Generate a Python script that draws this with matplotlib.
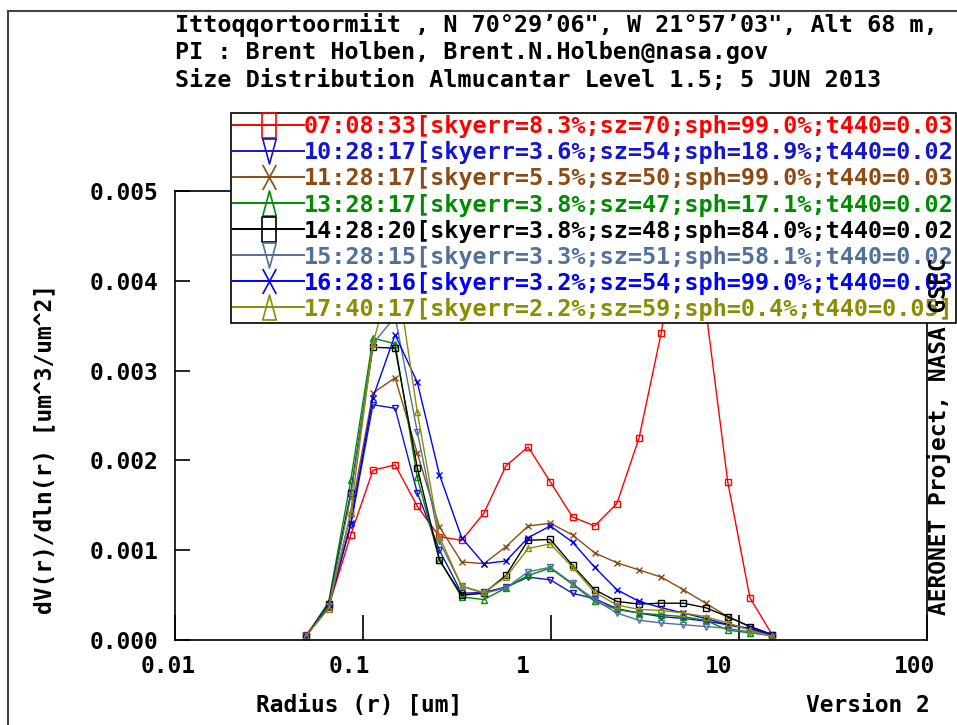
import matplotlib
matplotlib.use('Agg')
import matplotlib.pyplot as plt
from matplotlib.path import Path
from matplotlib.lines import Line2D
from matplotlib.patches import Rectangle
import matplotlib.transforms as mtransforms

# ---------------- data ----------------
radius = [0.05, 0.065604, 0.086077, 0.112939, 0.148184, 0.194429, 0.255105,
          0.334716, 0.439173, 0.576227, 0.756052, 0.991996, 1.301571,
          1.707757, 2.240702, 2.939966, 3.857452, 5.061260, 6.640745,
          8.713145, 11.432287, 15.0]

# legend labels as far as they are visible in the original (cut at the right edge)
labels = [
    "07:08:33[skyerr=8.3%;sz=70;sph=99.0%;t440=0.03",
    "10:28:17[skyerr=3.6%;sz=54;sph=18.9%;t440=0.02",
    "11:28:17[skyerr=5.5%;sz=50;sph=99.0%;t440=0.03",
    "13:28:17[skyerr=3.8%;sz=47;sph=17.1%;t440=0.02",
    "14:28:20[skyerr=3.8%;sz=48;sph=84.0%;t440=0.02",
    "15:28:15[skyerr=3.3%;sz=51;sph=58.1%;t440=0.02",
    "16:28:16[skyerr=3.2%;sz=54;sph=99.0%;t440=0.03",
    "17:40:17[skyerr=2.2%;sz=59;sph=0.4%;t440=0.05]",
]

v_0708 = [0.00006, 0.00037, 0.00117, 0.00189, 0.00195, 0.00149, 0.00115, 0.00111,
          0.00141, 0.00194, 0.00215, 0.00176, 0.00137, 0.00127, 0.00152, 0.00225,
          0.00342, 0.00500, 0.00370, 0.00176, 0.00047, 0.00006]
v_1028 = [0.00005, 0.00038, 0.00128, 0.00262, 0.00258, 0.00164, 0.00100, 0.00052,
          0.00053, 0.00059, 0.00070, 0.00067, 0.00052, 0.00046, 0.00035, 0.00030,
          0.00026, 0.00024, 0.00021, 0.00017, 0.00012, 0.00005]
v_1128 = [0.00005, 0.00038, 0.00140, 0.00275, 0.00292, 0.00208, 0.00126, 0.00087,
          0.00085, 0.00104, 0.00127, 0.00130, 0.00117, 0.00097, 0.00086, 0.00078,
          0.00070, 0.00056, 0.00041, 0.00026, 0.00015, 0.00006]
v_1328 = [0.00005, 0.00042, 0.00178, 0.00336, 0.00330, 0.00181, 0.00089, 0.00048,
          0.00045, 0.00058, 0.00072, 0.00080, 0.00062, 0.00043, 0.00034, 0.00030,
          0.00028, 0.00026, 0.00022, 0.00011, 0.00008, 0.00005]
v_1428 = [0.00005, 0.00040, 0.00164, 0.00326, 0.00325, 0.00192, 0.00089, 0.00050,
          0.00052, 0.00072, 0.00111, 0.00112, 0.00083, 0.00056, 0.00043, 0.00040,
          0.00041, 0.00041, 0.00036, 0.00026, 0.00015, 0.00006]
v_1528 = [0.00005, 0.00038, 0.00160, 0.00330, 0.00360, 0.00232, 0.00110, 0.00060,
          0.00052, 0.00058, 0.00076, 0.00081, 0.00063, 0.00045, 0.00030, 0.00022,
          0.00019, 0.00017, 0.00015, 0.00013, 0.00009, 0.00004]
v_1628 = [0.00005, 0.00036, 0.00130, 0.00270, 0.00340, 0.00287, 0.00184, 0.00114,
          0.00085, 0.00088, 0.00114, 0.00127, 0.00109, 0.00081, 0.00056, 0.00043,
          0.00036, 0.00030, 0.00024, 0.00017, 0.00013, 0.00006]
v_1740 = [0.00005, 0.00035, 0.00143, 0.00330, 0.00420, 0.00254, 0.00115, 0.00060,
          0.00053, 0.00070, 0.00102, 0.00107, 0.00081, 0.00053, 0.00039, 0.00034,
          0.00033, 0.00030, 0.00026, 0.00019, 0.00011, 0.00004]

series = [v_0708, v_1028, v_1128, v_1328, v_1428, v_1528, v_1628, v_1740]
colors = ['#FF0000', '#1414D2', '#8C4A14', '#008C00', '#000000', '#50709E', '#0000FF', '#8C8C00']
kinds = ['square', 'down', 'x', 'up', 'square', 'down', 'x', 'up']

xticks = [0.01, 0.1, 1, 10, 100]
xticklabels = ['0.01', '0.1', '1', '10', '100']
yticks = [0.0, 0.001, 0.002, 0.003, 0.004, 0.005]
yticklabels = ['0.000', '0.001', '0.002', '0.003', '0.004', '0.005']

title_lines = [
    "Ittoqqortoormiit , N 70\u00b029\u201906\", W 21\u00b057\u201903\", Alt 68 m,",
    "PI : Brent Holben, Brent.N.Holben@nasa.gov",
    "Size Distribution Almucantar Level 1.5; 5 JUN 2013",
]

# ---------------- style ----------------
W, H = 957, 725
FONT = 'DejaVu Sans Mono'
plt.rcParams['font.family'] = [FONT, 'DejaVu Sans']
plt.rcParams['font.weight'] = 'bold'

small_markers = {'square': 's', 'down': 'v', 'x': 'x', 'up': '^'}


def tall_marker(kind):
    a = 0.27
    if kind == 'square':
        verts = [(-a, -0.5), (a, -0.5), (a, 0.5), (-a, 0.5), (-a, -0.5)]
        codes = [Path.MOVETO, Path.LINETO, Path.LINETO, Path.LINETO, Path.CLOSEPOLY]
    elif kind == 'down':
        verts = [(-a, 0.5), (a, 0.5), (0, -0.5), (-a, 0.5)]
        codes = [Path.MOVETO, Path.LINETO, Path.LINETO, Path.CLOSEPOLY]
    elif kind == 'up':
        verts = [(-a, -0.5), (a, -0.5), (0, 0.5), (-a, -0.5)]
        codes = [Path.MOVETO, Path.LINETO, Path.LINETO, Path.CLOSEPOLY]
    else:
        verts = [(-a, -0.5), (a, 0.5), (-a, 0.5), (a, -0.5)]
        codes = [Path.MOVETO, Path.LINETO, Path.MOVETO, Path.LINETO]
    return Path(verts, codes)


fig = plt.figure(figsize=(W / 100, H / 100), dpi=100)
ax = fig.add_axes([175 / W, (H - 640) / H, (927 - 175) / W, (640 - 191) / H])

for vals, c, k in zip(series, colors, kinds):
    ax.plot(radius, vals, color=c, lw=1.0, marker=small_markers[k], ms=5,
            mfc='none', mec=c, mew=1.0)

ax.set_xscale('log')
ax.set_xlim(0.01, 100)
ax.set_ylim(0, 0.005)
ax.minorticks_off()
ax.set_xticks(xticks)
ax.set_xticklabels(xticklabels)
ax.set_yticks(yticks)
ax.set_yticklabels(yticklabels)
ax.tick_params(axis='x', direction='in', length=18, width=1.2, pad=11,
               labelsize=16.5, top=False)
ax.tick_params(axis='y', direction='in', length=10.8, width=1.2, pad=12,
               labelsize=16.5, right=False)
for sp in ax.spines.values():
    sp.set_linewidth(1.2)

# per-label horizontal offsets as in the original rendering (px)
xoffs = [-7, -14, -28, -20, -13]
for lab, dx in zip(ax.xaxis.get_majorticklabels(), xoffs):
    lab.set_transform(lab.get_transform() +
                      mtransforms.ScaledTranslation(dx / 100, 0, fig.dpi_scale_trans))

ax.set_xlabel("Radius (r) [um]", fontsize=16.5, fontweight='bold')
ax.xaxis.set_label_coords((359 - 175) / 752, (640 - 705) / 449)
ax.xaxis.label.set_va('center')
ax.set_ylabel("dV(r)/dln(r) [um^3/um^2]", fontsize=16.5, fontweight='bold')
ax.yaxis.set_label_coords((45 - 175) / 752, (640 - 449) / 449)
ax.yaxis.label.set_va('center')

# legend
handles = [Line2D([], [], color=c, lw=1.4, marker=tall_marker(k), ms=18,
                  mfc='none', mec=c, mew=1.2) for c, k in zip(colors, kinds)]
leg = ax.legend(handles, labels, loc='upper left',
                bbox_to_anchor=(231 / W, 1 - 113 / H), bbox_transform=fig.transFigure,
                borderpad=0.1, borderaxespad=0.0, handlelength=3.0, handletextpad=0.0,
                labelspacing=0.13, numpoints=1, frameon=True, fancybox=False,
                framealpha=1, edgecolor='black', labelcolor='linecolor',
                prop=dict(family=FONT, weight='bold', size=16.9))
leg.get_frame().set_linewidth(1.2)
leg.set_zorder(5)

# titles and side texts
for i, t in enumerate(title_lines):
    fig.text(175 / W, 1 - (25 + 27.5 * i) / H, t, ha='left', va='center',
             fontsize=16.85, fontweight='bold')
fig.text(930 / W, 1 - 705 / H, "Version 2", ha='right', va='center',
         fontsize=16.5, fontweight='bold')
fig.text(939 / W, 1 - 615 / H, "AERONET Project, NASA GSFC", rotation=90,
         ha='center', va='bottom', fontsize=16.5, fontweight='bold', zorder=10)

# outer frame
fig.add_artist(Rectangle((8 / W, -0.1), 1.2, 1 - 11 / H + 0.1, transform=fig.transFigure,
                         fill=False, edgecolor='#444444', lw=1.5))

fig.savefig('out.png', dpi=100)
